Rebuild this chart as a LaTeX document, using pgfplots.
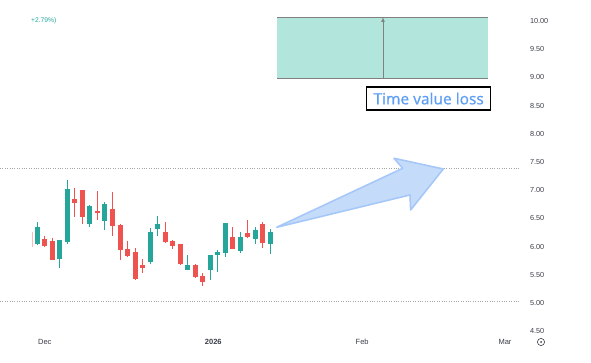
\documentclass[border=0pt]{standalone}
\usepackage{pgfplots}
\pgfplotsset{compat=1.18}
\usepackage{pgfplotstable}
\usepackage{fontspec}
\setmainfont{Liberation Sans}
\newfontfamily\annfont[FakeBold=0.8]{Open Sans}
\definecolor{tvgreen}{HTML}{26A69A}
\definecolor{tvred}{HTML}{EF5350}
\definecolor{boxfill}{HTML}{B2E5DC}
\definecolor{arrowfill}{HTML}{C5DBFA}
\definecolor{arrowdraw}{HTML}{A6C8F8}
\definecolor{labelblue}{HTML}{5D9EF5}
\definecolor{ticktext}{HTML}{3A3E48}

\pgfplotstableread{
x o h l c
0 6.06 6.44 6.03 6.33
3 5.79 6.12 5.62 6.10
4 6.09 7.18 6.05 7.01
7 6.42 6.73 6.34 6.70
9 6.47 6.79 6.29 6.74
15 5.73 6.33 5.70 6.25
16 6.33 6.54 6.18 6.38
20 5.60 5.85 5.59 5.66
23 5.59 5.85 5.41 5.83
24 5.86 5.94 5.55 5.89
25 5.90 6.41 5.82 6.40
27 5.93 6.26 5.89 6.16
29 6.14 6.35 6.05 6.29
31 6.06 6.32 5.86 6.24
}\greentab

\pgfplotstableread{
x o h l c
1 6.13 6.19 5.99 6.03
2 6.09 6.15 5.76 5.77
5 6.83 7.03 6.53 6.79
6 6.99 7.00 6.40 6.54
8 6.62 6.99 6.47 6.60
10 6.66 6.96 6.18 6.37
11 6.37 6.40 5.77 5.95
12 5.95 6.10 5.81 5.85
13 5.89 5.97 5.41 5.43
14 5.66 5.78 5.53 5.63
17 6.24 6.44 6.07 6.10
18 6.08 6.11 5.95 6.02
19 6.04 6.05 5.68 5.71
21 5.67 5.69 5.44 5.48
22 5.46 5.54 5.30 5.38
26 6.15 6.34 5.95 5.97
28 6.22 6.48 6.15 6.19
30 6.38 6.44 5.97 6.07
}\redtab

\begin{document}
\begin{tikzpicture}
\useasboundingbox (0,0) rectangle (591pt,362pt);
\begin{axis}[
  at={(0pt,28pt)}, anchor=south west,
  scale only axis, width=520pt, height=334pt,
  xmin=-4.96, xmax=64.19, ymin=4.45, ymax=10.372,
  axis line style={draw=none},
  major tick length=0pt,
  xtick={1,23.4,43.2,62.2},
  xticklabels={Dec,\textbf{2026},Feb,Mar},
  xticklabel style={font=\fontsize{7.5}{9}\selectfont, text=ticktext, yshift=-2pt},
  ytick={4.5,5,...,10},
  yticklabel pos=right,
  yticklabel style={font=\fontsize{7.3}{9}\selectfont, text=ticktext, anchor=west, xshift=6.5pt,
    /pgf/number format/.cd, fixed, fixed zerofill, precision=2, assume math mode=true},
  candle/.style={only marks, mark=*, mark options={opacity=0}, forget plot,
    error bars/y dir=both, error bars/y explicit, error bars/error mark=none},
]
% dotted horizontal levels
\addplot[gray!70, dotted, forget plot] coordinates {(-4.96,7.39) (64.19,7.39)};
\addplot[gray!70, dotted, forget plot] coordinates {(-4.96,5.03) (64.19,5.03)};

% faint partial candle
\addplot[tvred!40, line width=1pt, forget plot] coordinates {(-0.6,6.26) (-0.6,6.00)};

% wicks
\addplot[candle, error bars/error bar style={line width=1pt, tvgreen}]
  table[x=x, y expr={(\thisrow{h}+\thisrow{l})/2}, y error expr={(\thisrow{h}-\thisrow{l})/2}] {\greentab};
\addplot[candle, error bars/error bar style={line width=1pt, tvred}]
  table[x=x, y expr={(\thisrow{h}+\thisrow{l})/2}, y error expr={(\thisrow{h}-\thisrow{l})/2}] {\redtab};
% bodies
\addplot[candle, error bars/error bar style={line width=5pt, tvgreen}]
  table[x=x, y expr={(\thisrow{o}+\thisrow{c})/2}, y error expr={abs(\thisrow{c}-\thisrow{o})/2+0.012}] {\greentab};
\addplot[candle, error bars/error bar style={line width=5pt, tvred}]
  table[x=x, y expr={(\thisrow{o}+\thisrow{c})/2}, y error expr={abs(\thisrow{c}-\thisrow{o})/2+0.012}] {\redtab};

% time value rectangle
\addplot[fill=boxfill, draw=none, forget plot] coordinates {(31.9,8.98) (59.9,8.98) (59.9,10.07) (31.9,10.07)} -- cycle;
\addplot[gray, line width=0.8pt, forget plot] coordinates {(31.9,10.07) (59.9,10.07)};
\addplot[gray, line width=0.8pt, forget plot] coordinates {(31.9,8.98) (59.9,8.98)};
\addplot[gray, line width=0.7pt, -latex, forget plot] coordinates {(45.97,8.98) (45.97,10.07)};

% big arrow
\addplot[fill=arrowfill, draw=arrowdraw, line width=1.6pt, line join=round, forget plot]
  coordinates {(31.84,6.342) (48.59,7.388) (47.43,7.566) (53.99,7.376) (49.65,6.649) (49.56,6.915)} -- cycle;

% label
\node[draw=black, line width=1.1pt, fill=white, minimum width=124pt, minimum height=23pt, inner sep=0pt,
  font=\annfont\fontsize{15.5}{18}\selectfont, text=labelblue] at (axis cs:52.05,8.625) {Time value loss};
\end{axis}
\node[anchor=west, font=\fontsize{6.7}{8}\selectfont, text=tvgreen, inner sep=0pt] at (31pt,341pt) {+2.79\%)};
\draw[ticktext, line width=0.6pt] (541pt,20pt) circle (3.6pt);
\fill[ticktext] (541pt,20pt) circle (1pt);
\end{tikzpicture}
\end{document}
